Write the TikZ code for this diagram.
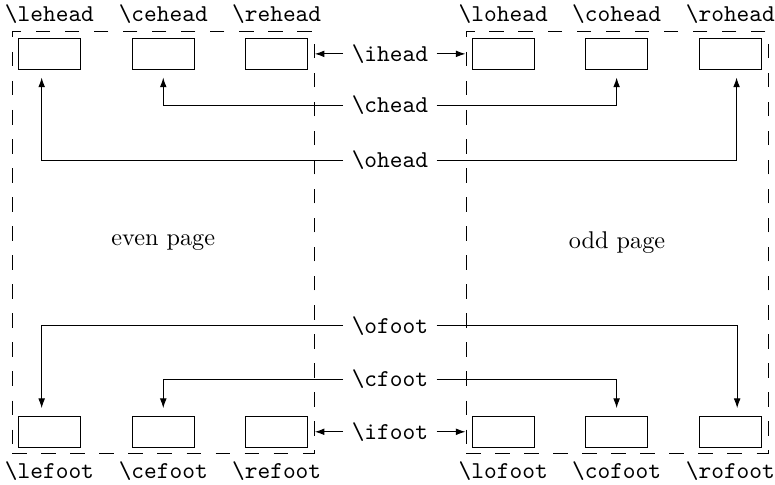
\documentclass[tikz,border=0pt]{standalone}
\usepackage{tikz}
\usetikzlibrary{arrows.meta,positioning}
\usetikzlibrary{calc}

\newcommand{\cmdname}[1]{\texttt{\textbackslash#1}}

\tikzset{
  page/.style={draw, dash pattern=on 6pt off 6pt, minimum width=4.385cm, minimum height=6.12cm},
  slot/.style={draw, minimum width=0.9cm, minimum height=0.455cm, inner sep=0pt, outer sep=3.3pt},
  cmd/.style={anchor=base, inner sep=1pt},
  conn/.style={-{Latex[length=4pt,width=2.8pt]}}
}

\begin{document}
\begin{tikzpicture}
\useasboundingbox (0,0) rectangle (11.25,7.04);

% the two pages
\node[page] (even) at (2.370,3.52) {even page};
\node[page] (odd) at (8.957,3.52) {odd page};

% head slots
\node[slot] (le) at (0.718,6.258) {};
\node[slot] (ce) at (2.370,6.258) {};
\node[slot] (re) at (4.016,6.258) {};
\node[slot] (lo) at (7.305,6.258) {};
\node[slot] (co) at (8.951,6.258) {};
\node[slot] (ro) at (10.602,6.258) {};

% foot slots
\node[slot] (lef) at (0.718,0.772) {};
\node[slot] (cef) at (2.370,0.772) {};
\node[slot] (ref) at (4.016,0.772) {};
\node[slot] (lof) at (7.305,0.772) {};
\node[slot] (cof) at (8.951,0.772) {};
\node[slot] (rof) at (10.602,0.772) {};

% slot names
\node[cmd] (lehead) at (0.718,6.724) {\cmdname{lehead}};
\node[cmd] (cehead) at (2.370,6.724) {\cmdname{cehead}};
\node[cmd] (rehead) at (4.016,6.724) {\cmdname{rehead}};
\node[cmd] (lohead) at (7.305,6.724) {\cmdname{lohead}};
\node[cmd] (cohead) at (8.951,6.724) {\cmdname{cohead}};
\node[cmd] (rohead) at (10.602,6.724) {\cmdname{rohead}};
\node[cmd] (lefoot) at (0.718,0.10) {\cmdname{lefoot}};
\node[cmd] (cefoot) at (2.370,0.10) {\cmdname{cefoot}};
\node[cmd] (refoot) at (4.016,0.10) {\cmdname{refoot}};
\node[cmd] (lofoot) at (7.305,0.10) {\cmdname{lofoot}};
\node[cmd] (cofoot) at (8.951,0.10) {\cmdname{cofoot}};
\node[cmd] (rofoot) at (10.602,0.10) {\cmdname{rofoot}};

% commands in the middle
\node (ihead) at (5.660,6.258) {\cmdname{ihead}};
\node (chead) at (5.660,5.515) {\cmdname{chead}};
\node (ohead) at (5.660,4.717) {\cmdname{ohead}};
\node (ofoot) at (5.660,2.312) {\cmdname{ofoot}};
\node (cfoot) at (5.660,1.534) {\cmdname{cfoot}};
\node (ifoot) at (5.660,0.772) {\cmdname{ifoot}};

% inner
\draw[conn] (ihead.west) -- (ihead.west -| even.east);
\draw[conn] (ihead.east) -- (ihead.east -| odd.west);
\draw[conn] (ifoot.west) -- (ifoot.west -| even.east);
\draw[conn] (ifoot.east) -- (ifoot.east -| odd.west);

% centre
\draw[conn] (chead.west) -| (ce.south);
\draw[conn] (chead.east) -| (co.south);
\draw[conn] (cfoot.west) -| (cef.north);
\draw[conn] (cfoot.east) -| (cof.north);

% outer
\draw[conn] (ohead.west) -| ([xshift=-0.113cm]le.south);
\draw[conn] (ohead.east) -| ([xshift=0.09cm]ro.south);
\draw[conn] (ofoot.west) -| ([xshift=-0.113cm]lef.north);
\draw[conn] (ofoot.east) -| ([xshift=0.099cm]rof.north);
\end{tikzpicture}
\end{document}
